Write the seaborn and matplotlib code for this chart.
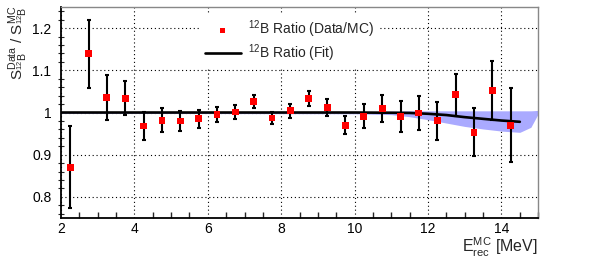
import numpy as np
import pandas as pd
import matplotlib
matplotlib.use('Agg')
import matplotlib.pyplot as plt
from matplotlib.ticker import MultipleLocator
import seaborn as sns

# data ratio points (bin centres, ratio, error)
energy = [2.25, 2.75, 3.25, 3.75, 4.25, 4.75, 5.25, 5.75, 6.25, 6.75, 7.25, 7.75,
          8.25, 8.75, 9.25, 9.75, 10.25, 10.75, 11.25, 11.75, 12.25, 12.75, 13.25,
          13.75, 14.25]
ratio = [0.870, 1.139, 1.036, 1.034, 0.968, 0.982, 0.980, 0.985, 0.996, 1.001,
         1.026, 0.987, 1.004, 1.034, 1.012, 0.970, 0.991, 1.009, 0.991, 0.999,
         0.981, 1.042, 0.953, 1.052, 0.970]
ratio_err = [0.097, 0.080, 0.054, 0.040, 0.033, 0.028, 0.023, 0.021, 0.018, 0.016,
             0.015, 0.014, 0.016, 0.018, 0.020, 0.022, 0.028, 0.032, 0.036, 0.041,
             0.045, 0.050, 0.057, 0.070, 0.087]

# fit curve
fit_x = [2, 4, 6, 8, 10, 11, 11.5, 12, 12.5, 13, 13.5, 14, 14.5]
fit_y = [1.0, 1.0, 1.0, 1.0, 1.0, 0.9995, 0.999, 0.997, 0.994, 0.989, 0.985, 0.981, 0.978]

# fit uncertainty band
band_x = [2, 10, 11, 11.5, 12, 12.5, 13, 13.5, 14, 14.5, 14.8, 15]
band_lo = [0.998, 0.997, 0.995, 0.990, 0.983, 0.975, 0.967, 0.961, 0.956, 0.953, 0.965, 0.997]
band_hi = [1.002, 1.002, 1.003, 1.004, 1.004, 1.004, 1.004, 1.004, 1.004, 1.004, 1.004, 1.005]

df = pd.DataFrame({'E': energy, 'ratio': ratio, 'err': ratio_err})
fit_df = pd.DataFrame({'E': fit_x, 'ratio': fit_y})

sns.set_theme(style='white')
plt.rcParams['font.family'] = ['Liberation Sans', 'DejaVu Sans']
plt.rcParams['mathtext.fontset'] = 'custom'
plt.rcParams['mathtext.rm'] = 'Liberation Sans'
plt.rcParams['mathtext.it'] = 'Liberation Sans:italic'

fig = plt.figure(figsize=(5.98, 2.6), dpi=100)
ax = fig.add_axes([0.102, 0.1615, 0.798, 0.8115])

ax.fill_between(band_x, band_lo, band_hi, color='#aaaaff', lw=0, zorder=1)
sns.lineplot(data=fit_df, x='E', y='ratio', ax=ax, color='black', lw=1.9,
             label=r'$^{12}\mathrm{B}$ Ratio (Fit)', zorder=2)
ax.errorbar(df['E'], df['ratio'], yerr=df['err'], fmt='none', ecolor='black',
            elinewidth=1.5, capsize=1.2, capthick=1.5, zorder=3)
sns.scatterplot(data=df, x='E', y='ratio', ax=ax, marker='s', color='red',
                s=24, edgecolor='none', label=r'$^{12}\mathrm{B}$ Ratio (Data/MC)', zorder=4)

ax.set_xlim(2, 15)
ax.set_ylim(0.75, 1.25)
ax.xaxis.set_major_locator(MultipleLocator(2))
ax.xaxis.set_minor_locator(MultipleLocator(0.5))
ax.yaxis.set_minor_locator(MultipleLocator(0.02))
ax.set_yticks([0.8, 0.9, 1.0, 1.1, 1.2])
ax.set_yticklabels(['0.8', '0.9', '1', '1.1', '1.2'])
ax.grid(True, which='major', ls=(0, (1, 2.5)), color='black', lw=0.8)
ax.tick_params(axis='x', which='major', direction='in', length=7, width=1, labelsize=10, pad=3, colors='black')
ax.tick_params(axis='x', which='minor', direction='in', length=4, width=1, bottom=True)
ax.tick_params(axis='y', which='major', direction='inout', length=10, width=1, labelsize=10, pad=2, colors='black')
ax.tick_params(axis='y', which='minor', direction='inout', length=4, width=0.8, left=True)
for side in ['left', 'bottom']:
    ax.spines[side].set_color('black')
    ax.spines[side].set_linewidth(1.3)
for side in ['top', 'right']:
    ax.spines[side].set_color('#888888')
    ax.spines[side].set_linewidth(1.0)
ax.set_xlabel('')
ax.set_ylabel('')

handles, labels = ax.get_legend_handles_labels()
order = [1, 0]
leg = ax.legend([handles[i] for i in order], [labels[i] for i in order],
                loc='upper left', bbox_to_anchor=(0.275, 1.005), fontsize=10,
                frameon=True, facecolor='white', edgecolor='none', framealpha=1,
                handlelength=2.6, handletextpad=0.5, labelspacing=0.15,
                borderpad=0.4, fancybox=False, markerscale=0.75)
leg.set_zorder(5)

fig.text(0.03, 0.98, r'S$^{\mathrm{Data}}_{^{12}\mathrm{B}}$ / S$^{\mathrm{MC}}_{^{12}\mathrm{B}}$',
         rotation=90, ha='center', va='top', fontsize=11)
fig.text(0.9, 0.048, r'E$^{\mathrm{MC}}_{\mathrm{rec}}$ [MeV]', ha='right', va='center', fontsize=11.5)

fig.savefig('out.png', dpi=100)
